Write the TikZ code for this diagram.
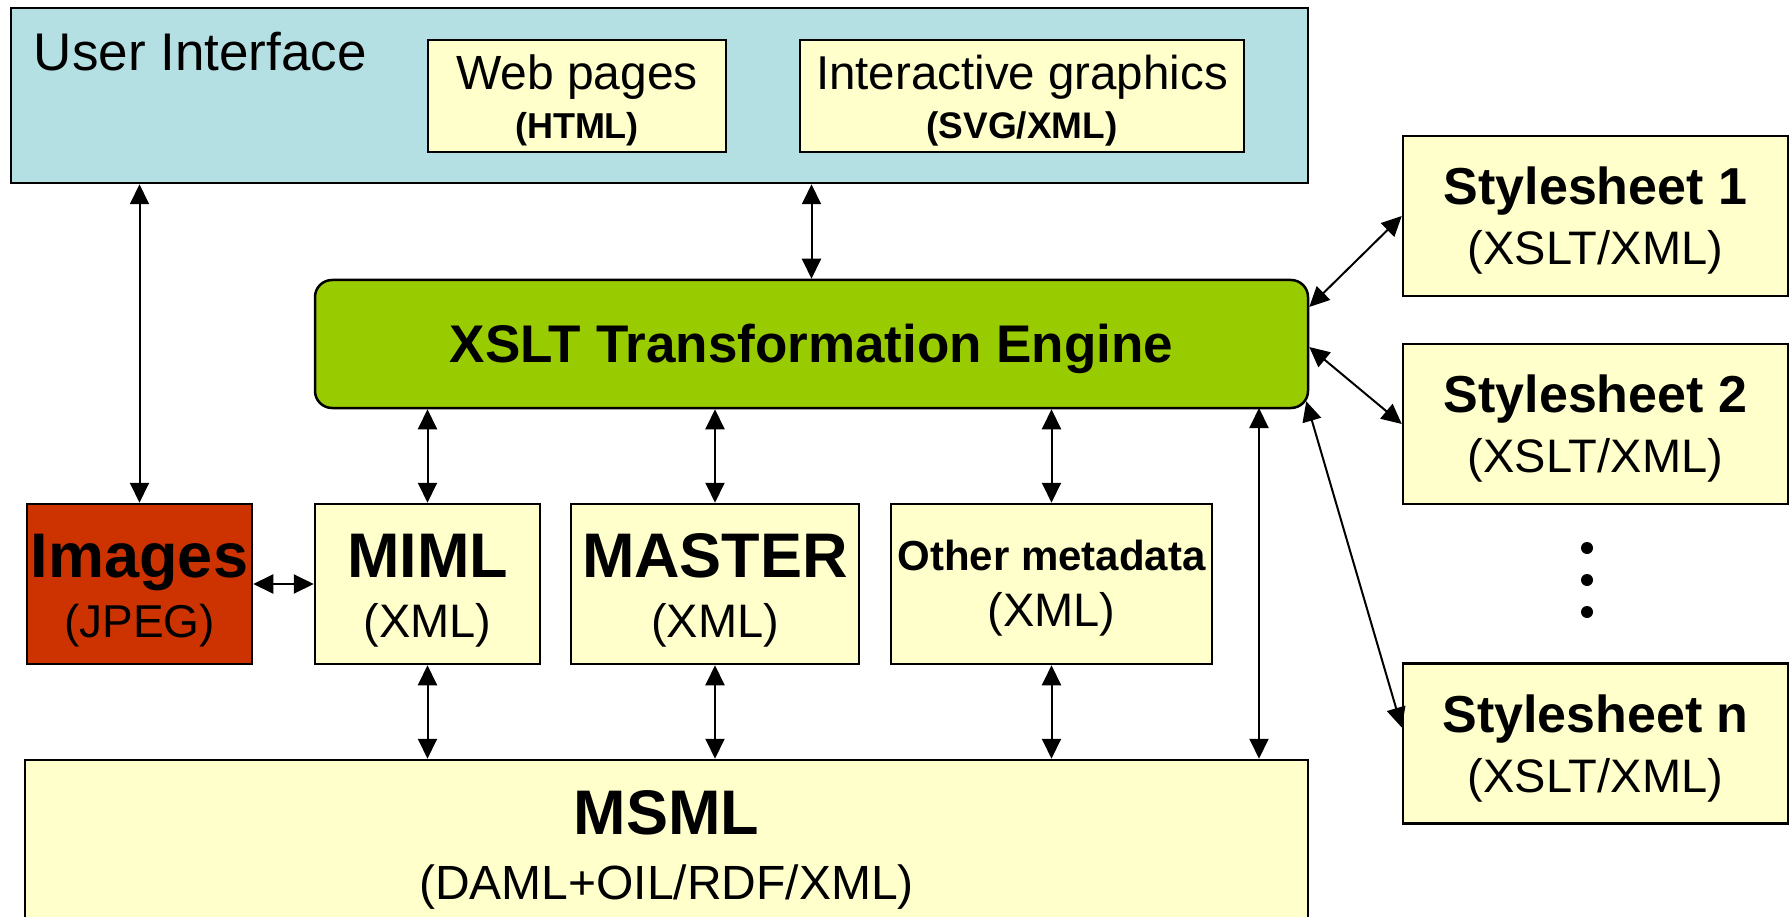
\documentclass[tikz,border=0pt]{standalone}
\usepackage{fontspec}
\setmainfont{Liberation Sans}
\usetikzlibrary{arrows.meta,calc}
\definecolor{uiblue}{HTML}{B4E0E4}
\definecolor{boxyellow}{HTML}{FFFFCC}
\definecolor{enggreen}{HTML}{99CC00}
\definecolor{imgred}{HTML}{CC3300}
\newcommand{\fsz}[2]{\fontsize{#1}{#2}\selectfont}
\newcommand{\pps}{\rule[-0.212em]{0pt}{1.117em}}

\begin{document}
\begin{tikzpicture}[<->,>={Triangle[length=20pt,width=19pt]}
	,x=1pt,y=-1pt
	,line width=2pt]
  \tikzstyle{box}=[draw,line width=2.5pt,fill=boxyellow,align=center,inner sep=0pt]
  \tikzstyle{sheet}=[box,minimum width=385pt,minimum height=160pt,font=\fsz{52}{60}]
  \tikzstyle{store}=[box,minimum height=160pt,font=\fsz{63}{60}]

  \useasboundingbox (0,0) rectangle (1789,917);
  \clip (0,0) rectangle (1789,917);

  % user interface
  \node[draw,line width=2.5pt,fill=uiblue,minimum width=1297pt,minimum height=175pt] (ui) at (659.5,95.5) {};
  \node[anchor=base west,inner sep=0pt,font=\fsz{53}{60}] (uilabel) at (33,71) {User Interface};
  \node[box,minimum width=298pt,minimum height=112pt,font=\fsz{48}{49}] (web) at (577,96)
    {{\pps Web pages}\\{\fsz{36}{49}\bfseries\pps (HTML)}};
  \node[box,minimum width=444pt,minimum height=112pt,font=\fsz{47.5}{49}] (igraph) at (1022,96)
    {{\pps Interactive graphics}\\{\fsz{37}{49}\bfseries\pps (SVG/XML)}};

  % engine
  \node[draw,line width=2.5pt,fill=enggreen,rounded corners=17pt,minimum width=993pt,minimum height=128pt,
    inner sep=0pt,font=\fsz{53}{60}\bfseries] (engine) at (811.5,344) {\pps XSLT Transformation Engine};

  % stylesheets
  \node[sheet] (ss1) at (1595.5,216) {{\bfseries\pps Stylesheet 1}\\{\fsz{47}{60}\pps (XSLT/XML)}};
  \node[sheet] (ss2) at (1595.5,424) {{\bfseries\pps Stylesheet 2}\\{\fsz{47}{60}\pps (XSLT/XML)}};
  \node[sheet] (ssn) at (1595.5,743.5) {{\bfseries\pps Stylesheet n}\\{\fsz{47}{60}\pps (XSLT/XML)}};
  \foreach \y in {548,580,612}
    \fill[-] (1587,\y) circle (6pt);

  % documents
  \node[store,fill=imgred,minimum width=225pt] (images) at (139.5,584)
    {{\bfseries\pps Images}\\{\fsz{46}{60}\pps (JPEG)}};
  \node[store,minimum width=225pt] (miml) at (427.5,584)
    {{\bfseries\pps MIML}\\{\fsz{47}{60}\pps (XML)}};
  \node[store,minimum width=288pt] (master) at (715,584)
    {{\bfseries\pps MASTER}\\{\fsz{47}{60}\pps (XML)}};
  \node[store,minimum width=321pt,font=\fsz{42}{56}] (other) at (1051.5,584)
    {{\bfseries\pps Other metadata}\\{\fsz{47}{56}\pps (XML)}};
  \node[box,minimum width=1283pt,minimum height=168pt,font=\fsz{63}{65}] (msml) at (666.5,844)
    {{\bfseries\pps MSML}\\{\fsz{48}{65}\pps (DAML+OIL/RDF/XML)}};
  \coordinate (tap) at (1259,408);

  % ui
  \path (images.north |- ui.south) edge (images.north);
  \path (engine.north |- ui.south) edge (engine.north);
  % engine to documents
  \path (miml.north |- engine.south)   edge (miml.north);
  \path (master.north |- engine.south) edge (master.north);
  \path (other.north |- engine.south)  edge (other.north);
  \path (tap)                          edge (tap |- msml.north);
  % documents to msml
  \path (miml.south)   edge (miml.south |- msml.north);
  \path (master.south) edge (master.south |- msml.north);
  \path (other.south)  edge (other.south |- msml.north);
  \path (images.east)  edge (miml.west);
  % engine to stylesheets
  \path ($(engine.east)+(0,-37)$)       edge (ss1.west);
  \path ($(engine.east)+(0,3)$)         edge (ss2.west);
  \path ($(engine.south east)+(-3,-8)$) edge ($(ssn.west)+(0,-16)$);
\end{tikzpicture}
\end{document}
